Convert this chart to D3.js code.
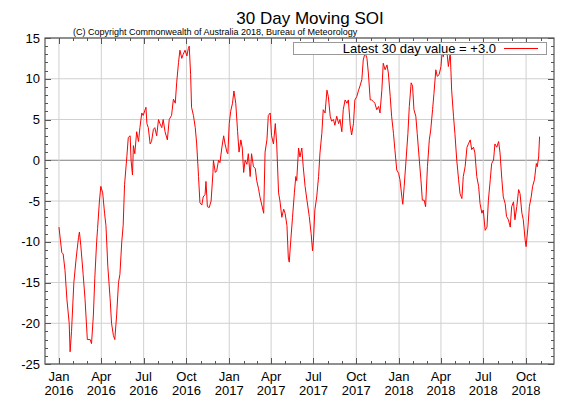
<!DOCTYPE html><html><head><meta charset="utf-8"><script src="https://cdn.jsdelivr.net/npm/d3@7"></script>
<style>body{margin:0;background:#fff}svg{font-family:"Liberation Sans",Arial,sans-serif}</style></head><body><svg id="c" width="576" height="403"></svg>
<script>
// days since 2016-01-01
const days=[0,6,9,13,17,22,24,27,32,37,42,44,47,52,56,61,67,70,74,77,81,83,87,90,94,98,101,105,110,113,117,120,124,128,131,135,138,141,146,149,153,155,158,160,163,167,171,174,178,181,187,189,192,196,199,203,206,210,214,217,221,224,228,233,237,242,246,250,253,257,260,264,267,271,275,278,280,283,285,289,293,296,300,303,307,310,314,316,319,323,327,331,332,336,339,343,346,350,354,357,361,363,366,369,373,376,380,384,387,391,394,397,400,404,407,411,414,418,422,425,429,432,436,440,443,447,450,454,457,461,465,468,472,475,479,483,486,490,493,495,498,502,506,509,511,515,518,522,525,529,533,538,542,545,547,550,554,558,561,565,568,572,576,579,583,586,590,593,597,601,604,608,611,615,619,622,626,629,633,636,640,644,647,651,654,658,662,665,669,672,676,679,683,687,690,694,697,701,705,708,712,715,719,722,726,730,733,737,739,742,746,750,753,757,760,763,767,770,774,778,781,785,788,792,796,799,803,806,810,813,817,821,824,826,830,834,837,841,844,848,851,855,859,862,866,869,873,877,880,884,887,891,894,898,902,905,909,912,916,920,923,927,930,934,937,941,945,948,952,955,959,962,966,970,973,977,980,984,988,991,995,998,1002,1004,1008,1011,1015,1018,1022,1026,1028,1031,1033];
const soi=[-8.2,-11.3,-11.5,-13.5,-17,-20,-23.5,-21,-15,-12,-9.5,-8.8,-10.5,-14,-17,-22,-22,-22.5,-19,-14.5,-10,-8.4,-5,-3.2,-4,-6.5,-8,-13,-17,-20,-21.5,-22,-19,-15,-14,-10,-8,-3,0.5,2.8,3,0,-1.8,1.8,0.8,3.5,2.3,4,5.8,5.5,6.5,4.5,4,2,2.3,3.8,4,3,5,4.5,4,5,3.5,2.5,5,5.5,7.5,7,9.5,12,13.5,12.5,13,13.5,12.8,13.7,14,10.5,6.5,5.5,4,2,-2,-5.2,-5.5,-4.5,-4.2,-2.6,-5.7,-5.8,-5,-1.5,0,-1.5,-1.3,0,-0.3,1.5,3,2,1,0.8,4.5,6,7,8.5,7,3.5,1,2.5,1.5,-1.5,0,-0.5,0.8,-2,0.8,-0.8,-1,-2.5,-3.5,-4.5,-5.5,-6.5,1,2.5,5.5,5.8,3,2,4.5,2,-4,-5,-7,-6,-6.5,-8,-12,-12.5,-10,-7,-4,-2,-2.5,1.5,0.4,1.5,-0.8,-3.2,-4.9,-6.9,-9,-11.1,-9.8,-6.1,-4.5,-2,0.9,3.3,6.2,5.8,8.6,7.8,5.4,4.8,5,4.3,5.4,4.5,5,3.5,6.2,7.4,7,7.4,4.3,3.1,4.5,7.4,7.8,8.6,9.1,9.9,12.3,13.2,12.5,10.7,7.4,7.4,7.2,7,6.2,6.6,5.8,8.6,11.9,11.1,11.7,10.7,7.8,5.4,3.3,1.3,-1.2,-1.6,-2.4,-4.5,-5.4,-3.2,0,3.3,6.6,9.5,9.1,6.2,5.4,3.3,0.4,-2.4,-4.9,-4.9,-5.7,-0.8,2.5,3.7,6.2,8.2,11.1,10.3,10.5,11.5,13.6,12.7,14,13.2,11.5,13.2,8.6,5.4,3.3,0,-2.4,-4.1,-4.7,-2,-0.8,1.6,2,2.5,1.3,1.6,0.9,-2,-3.2,-5.3,-6.5,-6.1,-8.6,-8.2,-4.9,-2.4,-0.4,0,2,1.6,2.3,0.9,-2.4,-4.5,-5.3,-6.9,-7.3,-8.2,-5.7,-5.1,-7.3,-5.7,-3.6,-4.1,-6.5,-7.3,-9.8,-10.6,-8.2,-5.7,-4.5,-3.2,-2.4,-0.4,-0.8,0.4,2.9];
const yTicks=[15,10,5,0,-5,-10,-15,-20,-25];
const xTickMonths=["2016-01","2016-04","2016-07","2016-10","2017-01","2017-04","2017-07","2017-10","2018-01","2018-04","2018-07","2018-10"];
const monthNames={"01":"Jan","04":"Apr","07":"Jul","10":"Oct"};
const legendText="Latest 30 day value = +3.0";

const svg=d3.select("#c");
const L=45,R=554,T=38,B=364;
const base=new Date(2016,0,1);
const dt=d=>d3.timeDay.offset(base,d);
const x=d3.scaleTime().domain([dt(-30),dt(1064)]).range([L,R]);
const y=d3.scaleLinear().domain([-25,15]).range([B,T]);
const xt=xTickMonths.map(s=>new Date(+s.slice(0,4),+s.slice(5)-1,1));
// grid
svg.append("g").selectAll("line").data(yTicks).join("line").attr("x1",L).attr("x2",R).attr("y1",d=>y(d)).attr("y2",d=>y(d)).attr("stroke",d=>d===0?"#808080":"#d0d0d0").attr("stroke-width",1);
svg.append("g").selectAll("line").data(xt).join("line").attr("y1",T).attr("y2",B).attr("x1",d=>x(d)).attr("x2",d=>x(d)).attr("stroke","#d0d0d0");
// minor ticks
const months=d3.timeMonth.range(x.domain()[0],x.domain()[1]);
const g=svg.append("g").attr("stroke","#555");
months.forEach(m=>{const px=Math.round(x(m))+0.5;const mj=m.getMonth()%3===0;const len=mj?6:3;g.append("line").attr("x1",px).attr("x2",px).attr("y1",B).attr("y2",B-len);g.append("line").attr("x1",px).attr("x2",px).attr("y1",T).attr("y2",T+len);});
d3.range(-25,16).forEach(v=>{const py=Math.round(y(v))+0.5;const len=v%5===0?6:3;g.append("line").attr("x1",L).attr("x2",L+len).attr("y1",py).attr("y2",py);g.append("line").attr("x1",R).attr("x2",R-len).attr("y1",py).attr("y2",py);});
// line
svg.append("path").datum(days.map((d,i)=>[d,soi[i]])).attr("fill","none").attr("stroke","#ff0000").attr("stroke-width",1)
 .attr("d",d3.line().x(d=>x(dt(d[0]))).y(d=>y(d[1])));
// frame
svg.append("rect").attr("x",L).attr("y",T).attr("width",R-L).attr("height",B-T).attr("fill","none").attr("stroke","#555").attr("stroke-width",1.2);
// y labels
svg.append("g").selectAll("text").data(yTicks).join("text").attr("x",L-5).attr("y",d=>y(d)+4.5).attr("text-anchor","end").attr("font-size",13).text(d=>d);
// x labels
const xl=svg.append("g").attr("font-size",13).attr("text-anchor","middle");
xTickMonths.forEach((s,i)=>{xl.append("text").attr("x",x(xt[i])).attr("y",381).text(monthNames[s.slice(5)]);xl.append("text").attr("x",x(xt[i])).attr("y",395).text(s.slice(0,4));});
// title
svg.append("text").attr("x",310).attr("y",24).attr("text-anchor","middle").attr("font-size",17).text("30 Day Moving SOI");
svg.append("text").attr("x",73).attr("y",35).attr("font-size",9).text("(C) Copyright Commonwealth of Australia 2018, Bureau of Meteorology");
// legend
svg.append("rect").attr("x",293.5).attr("y",42.5).attr("width",253).attr("height",12).attr("fill","#fff").attr("stroke","#999");
svg.append("text").attr("x",496).attr("y",53).attr("text-anchor","end").attr("font-size",13).text(legendText);
svg.append("line").attr("x1",504).attr("x2",538).attr("y1",48.5).attr("y2",48.5).attr("stroke","#ff0000");
</script></body></html>
